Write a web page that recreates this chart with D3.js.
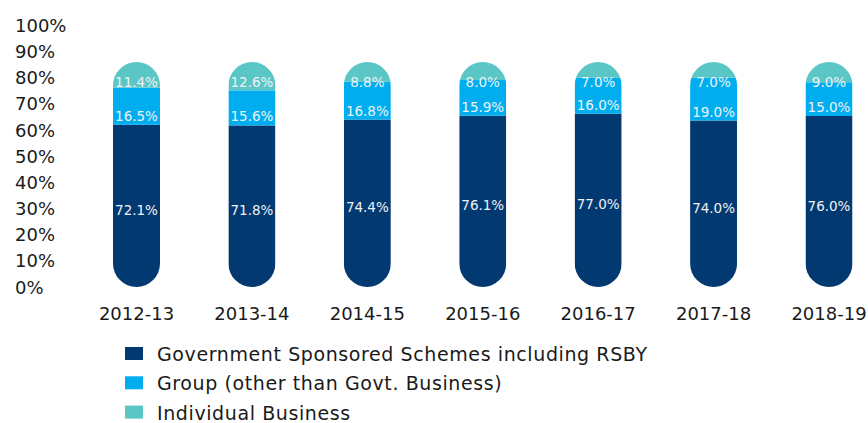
<!DOCTYPE html>
<html>
<head>
<meta charset="utf-8">
<script src="https://cdn.jsdelivr.net/npm/d3@7"></script>
<style>
  body { margin: 0; background: #fff; }
  text { font-family: "DejaVu Sans", sans-serif; }
</style>
</head>
<body>
<div id="chart"></div>
<script>
const years = ["2012-13", "2013-14", "2014-15", "2015-16", "2016-17", "2017-18", "2018-19"];
const govt = [72.1, 71.8, 74.4, 76.1, 77.0, 74.0, 76.0];
const group = [16.5, 15.6, 16.8, 15.9, 16.0, 19.0, 15.0];
const individual = [11.4, 12.6, 8.8, 8.0, 7.0, 7.0, 9.0];
const seriesNames = ["Government Sponsored Schemes including RSBY", "Group (other than Govt. Business)", "Individual Business"];
const colors = ["#023970", "#00aeef", "#5bc6c6"];
const yTicks = [0, 10, 20, 30, 40, 50, 60, 70, 80, 90, 100];

const width = 868, height = 423;

const svg = d3.select("#chart")
  .append("svg")
  .attr("width", width)
  .attr("height", height);

// axis scale and the (shorter) bar scale
const y = d3.scaleLinear().domain([0, 100]).range([287, 25.5]);
const yBar = d3.scaleLinear().domain([0, 100]).range([287, 62]);
const x = d3.scalePoint().domain(years).range([136.5, 829]);
const barW = 47;

const rows = years.map((yr, i) => ({ year: yr, govt: govt[i], group: group[i], individual: individual[i] }));
const stack = d3.stack().keys(["govt", "group", "individual"])(rows);

// y axis labels, left aligned
svg.append("g")
  .selectAll("text")
  .data(yTicks)
  .join("text")
  .attr("x", 15)
  .attr("y", d => y(d))
  .attr("dominant-baseline", "central")
  .style("font-size", "18px")
  .style("fill", "#1a1a1a")
  .text(d => d + "%");

// each bar is a pill: clip the stacked rects with a rounded rect
const defs = svg.append("defs");
years.forEach((yr, i) => {
  defs.append("clipPath")
    .attr("id", "pill" + i)
    .append("rect")
    .attr("x", x(yr) - barW / 2)
    .attr("y", yBar(100))
    .attr("width", barW)
    .attr("height", yBar(0) - yBar(100))
    .attr("rx", barW / 2);
});

const bars = svg.append("g");
stack.forEach((s, k) => {
  bars.append("g")
    .selectAll("rect")
    .data(s)
    .join("rect")
    .attr("clip-path", (d, i) => `url(#pill${i})`)
    .attr("x", d => x(d.data.year) - barW / 2)
    .attr("y", d => yBar(d[1]))
    .attr("width", barW)
    .attr("height", d => yBar(d[0]) - yBar(d[1]))
    .attr("fill", colors[k]);
});

// value labels
const labelY = [
  d => (yBar(d[0]) + yBar(d[1])) / 2 + 4,
  d => yBar(d[0]) - 9,
  d => yBar(100) + 20
];
stack.forEach((s, k) => {
  svg.append("g")
    .selectAll("text")
    .data(s)
    .join("text")
    .attr("x", d => x(d.data.year))
    .attr("y", labelY[k])
    .attr("text-anchor", "middle")
    .attr("dominant-baseline", "central")
    .style("font-size", "13.5px")
    .style("fill", "#eef2f6")
    .text(d => (d[1] - d[0]).toFixed(1) + "%");
});

// category labels
svg.append("g")
  .selectAll("text")
  .data(years)
  .join("text")
  .attr("x", d => x(d))
  .attr("y", 320)
  .attr("text-anchor", "middle")
  .style("font-size", "18px")
  .style("fill", "#1a1a1a")
  .text(d => d);

// legend
const legend = svg.append("g")
  .selectAll("g")
  .data(seriesNames)
  .join("g")
  .attr("transform", (d, i) => `translate(125,${347 + i * 29.3})`);

legend.append("rect")
  .attr("width", 18)
  .attr("height", 13)
  .attr("fill", (d, i) => colors[i]);

legend.append("text")
  .attr("x", 32)
  .attr("y", 7)
  .attr("dominant-baseline", "central")
  .style("font-size", "19px")
  .style("letter-spacing", "0.6px")
  .style("fill", "#1a1a1a")
  .text(d => d);
</script>
</body>
</html>
